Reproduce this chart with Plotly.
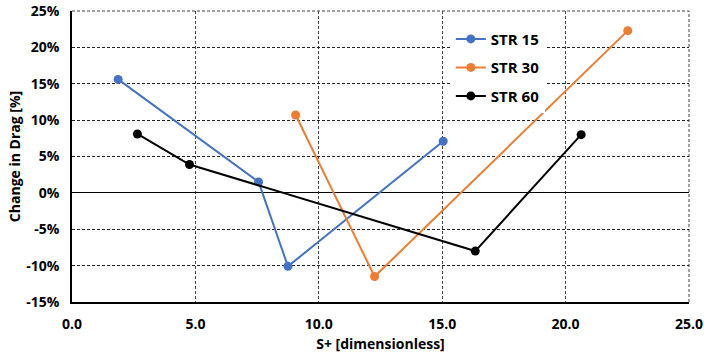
import plotly.graph_objects as go

str15_x = [1.87, 7.56, 8.75, 15.04]
str15_y = [15.6, 1.5, -10.1, 7.1]
str30_x = [9.06, 12.26, 22.52]
str30_y = [10.7, -11.5, 22.3]
str60_x = [2.65, 4.76, 16.34, 20.63]
str60_y = [8.1, 3.9, -8.0, 8.0]

y_ticks = [-15, -10, -5, 0, 5, 10, 15, 20, 25]
y_labels = [f"{v}%" for v in y_ticks]
x_ticks = [0, 5, 10, 15, 20, 25]
x_labels = [f"{v:.1f}" for v in x_ticks]

series = [
    ("STR 15", str15_x, str15_y, "#4472C4"),
    ("STR 30", str30_x, str30_y, "#ED7D31"),
    ("STR 60", str60_x, str60_y, "#000000"),
]

fig = go.Figure()
for name, xs, ys, col in series:
    fig.add_trace(go.Scatter(
        x=xs, y=ys, name=name, mode="lines+markers",
        line=dict(color=col, width=2),
        marker=dict(color=col, size=9),
        legendgroup=name,
    ))

font_family = "Open Sans, Liberation Sans, sans-serif"
fig.update_layout(
    width=704, height=362,
    margin=dict(l=72, r=15, t=11, b=60, autoexpand=False),
    paper_bgcolor="white", plot_bgcolor="white",
    font=dict(family=font_family, color="#000000"),
    showlegend=True,
    legend=dict(
        x=0.614, y=0.96, xanchor="left", yanchor="top",
        bgcolor="white", font=dict(size=15, family=font_family, weight="bold"),
        tracegroupgap=6, itemwidth=30,
    ),
    xaxis=dict(
        range=[0, 25], tickvals=x_ticks, ticktext=x_labels, automargin=False,
        showgrid=True, gridcolor="#444444", griddash="3px,2px", gridwidth=1,
        showline=True, linecolor="black", linewidth=1.5,
        zeroline=False, ticks="", ticklabelstandoff=8, ticklabeloverflow="allow",
        tickfont=dict(size=14, weight="bold"),
        title=dict(text="S+ [dimensionless]", font=dict(size=14, weight="bold"), standoff=8),
    ),
    yaxis=dict(
        range=[-15, 25], tickvals=y_ticks, ticktext=y_labels, automargin=False,
        showgrid=True, gridcolor="#222222", griddash="3px,2px", gridwidth=1,
        showline=True, linecolor="black", linewidth=1.5,
        zeroline=True, zerolinecolor="black", zerolinewidth=1.3,
        ticks="", ticklabelstandoff=8, ticklabeloverflow="allow",
        tickfont=dict(size=14, weight="bold"),
        title=dict(text="Change in Drag [%]", font=dict(size=14, weight="bold"), standoff=2),
    ),
    shapes=[
        dict(type="line", xref="paper", yref="paper", x0=0, x1=1, y0=1, y1=1,
             line=dict(color="#444444", width=1, dash="3px,2px"), layer="below"),
        dict(type="line", xref="paper", yref="paper", x0=1, x1=1, y0=0, y1=1,
             line=dict(color="#444444", width=1, dash="3px,2px"), layer="below"),
    ],
)

fig.write_html("out.html", config={"displayModeBar": False},
               post_script="document.body.style.margin='0';")
